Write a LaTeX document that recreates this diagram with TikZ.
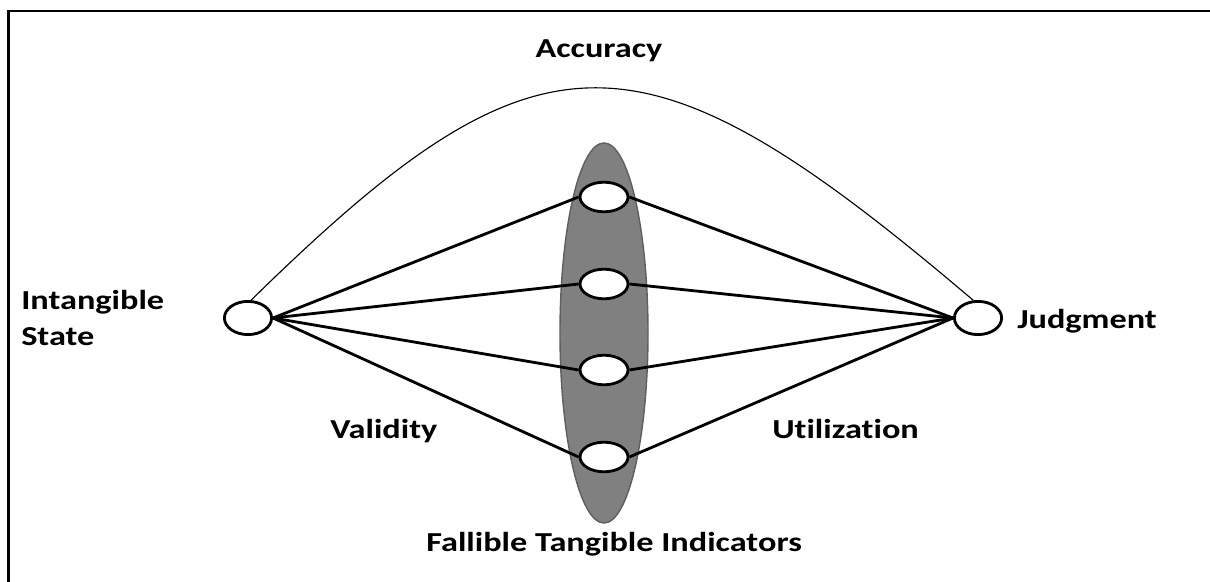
\documentclass[tikz,border=0pt]{standalone}
\usepackage{fontspec}
\setmainfont[FakeStretch=1.25, Ligatures=NoCommon]{Carlito}
\usetikzlibrary{shapes.geometric}

\definecolor{cuegray}{RGB}{128,128,128}
\definecolor{cueedge}{RGB}{95,95,95}

\tikzset{
  lbl/.style={font=\fontsize{19.5}{25.6}\selectfont\bfseries, inner sep=0pt},
  stateell/.style={ellipse, draw, line width=2pt, fill=white, minimum width=1.18cm, minimum height=0.83cm, inner sep=0pt},
  cueell/.style={stateell, minimum width=1.2cm, minimum height=0.74cm},
  link/.style={line width=2pt},
}

\begin{document}
\begin{tikzpicture}[x=0.025cm, y=-0.025cm]
  \useasboundingbox (0,0) rectangle (1210,582);
  \clip (0,0) rectangle (1210,582);
  % Cornice
  \draw[line width=2pt] (8.5,11) rectangle (1240,620);

  % Indicatori
  \node[ellipse, fill=cuegray, draw=cueedge, line width=1pt, minimum width=2.2cm, minimum height=9.5cm] (cues) at (604,333) {};
  \foreach \y [count=\i] in {197,284,370,457}
    \node[cueell] (c\i) at (604,\y) {};
  \node[stateell] (is) at (248,318) {};
  \node[stateell] (jd) at (978,318) {};

  % Collegamenti
  \foreach \i in {1,...,4}{
    \draw[link] (is.east) -- (c\i.west);
    \draw[link] (c\i.east) -- (jd.west);
  }
  \draw[line width=0.8pt] (is.80) .. controls (540,17) and (640,17) .. (jd.105);

  % Etichette
  \node[lbl, anchor=base] (acc) at (599,58) {Accuracy};
  \node[lbl, anchor=west, align=left] (isl) at (21,318) {Intangible\\State};
  \node[lbl, anchor=base west] (jdl) at (1017,329) {Judgment};
  \node[lbl, anchor=base west] (val) at (330,439) {Validity};
  \node[lbl, anchor=base west] (utl) at (772,439) {Utilization};
  \node[lbl, anchor=base] (fti) at (614,552) {Fallible Tangible Indicators};
\end{tikzpicture}
\end{document}
